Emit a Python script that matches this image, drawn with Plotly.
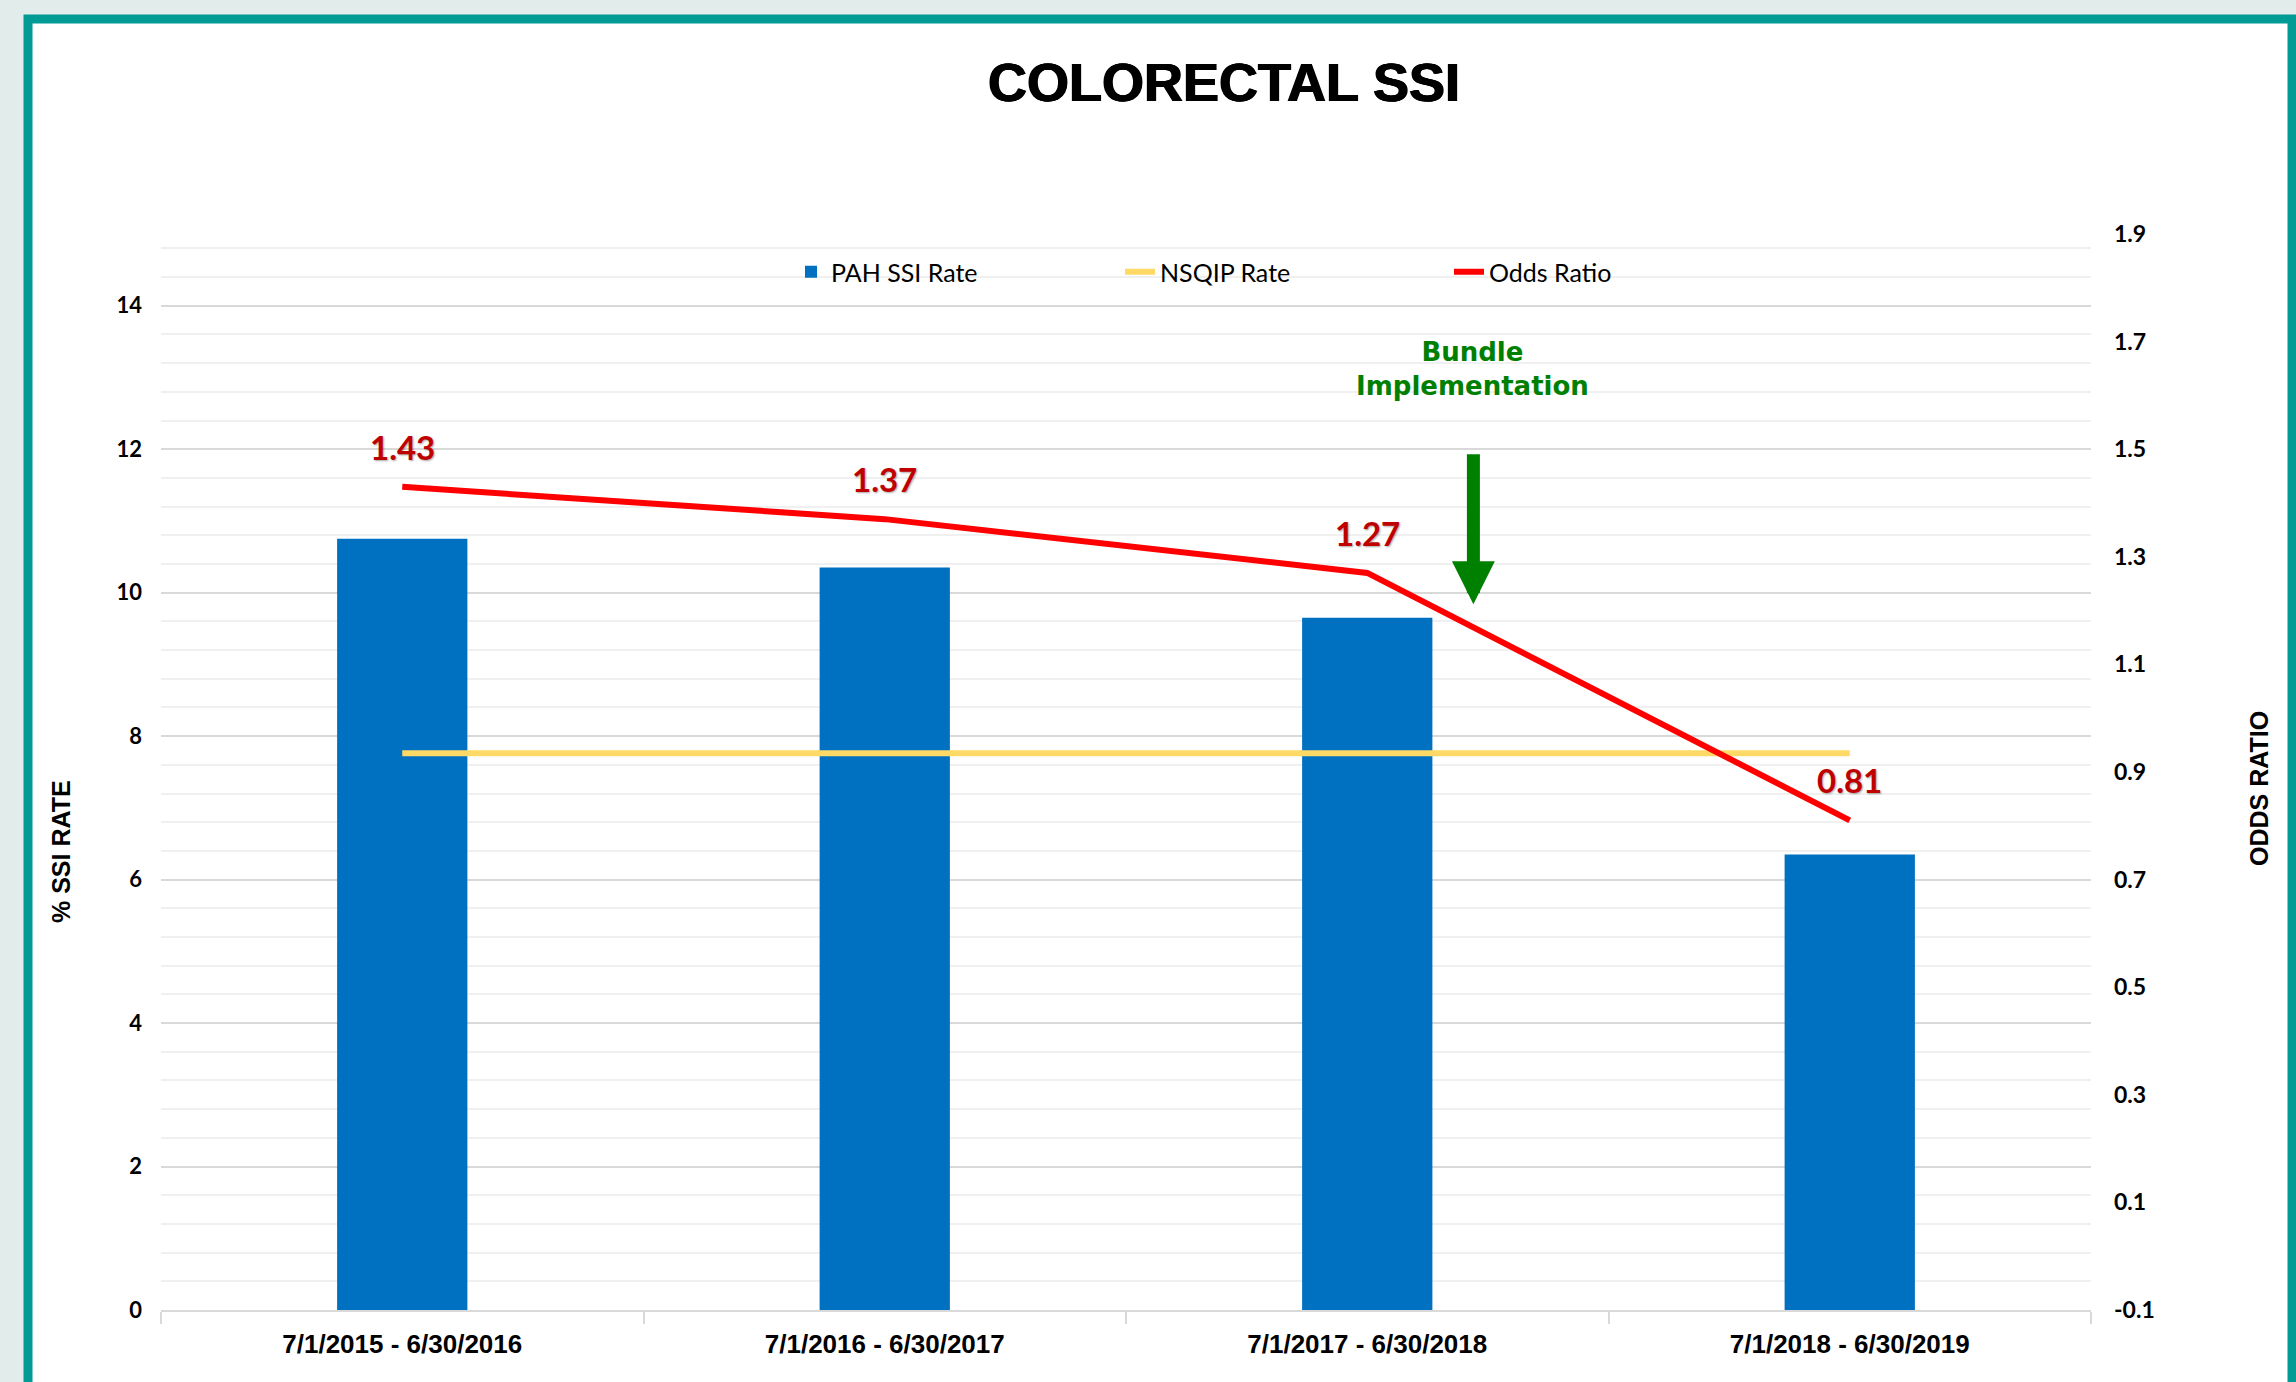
import plotly.graph_objects as go

# ---- data ----
categories = ["7/1/2015 - 6/30/2016", "7/1/2016 - 6/30/2017",
              "7/1/2017 - 6/30/2018", "7/1/2018 - 6/30/2019"]
pah_ssi_rate = [10.75, 10.35, 9.65, 6.35]
nsqip_rate = [7.76, 7.76, 7.76, 7.76]
odds_ratio = [1.43, 1.37, 1.27, 0.81]
odds_labels = ["1.43", "1.37", "1.27", "0.81"]
left_ticks = [0, 2, 4, 6, 8, 10, 12, 14]
right_ticks = [-0.1, 0.1, 0.3, 0.5, 0.7, 0.9, 1.1, 1.3, 1.5, 1.7, 1.9]
right_tick_text = ["-0.1", "0.1", "0.3", "0.5", "0.7", "0.9", "1.1", "1.3", "1.5", "1.7", "1.9"]

W, H = 2296, 1382
ML, MR, MT, MB = 161, 205, 234, 72
PW, PH = W - ML - MR, H - MT - MB

def px_x(x):
    return (x - ML) / PW

def px_y(y):
    return (H - MB - y) / PH

fig = go.Figure()
fig.add_trace(go.Bar(x=categories, y=pah_ssi_rate, name="PAH SSI Rate",
                     marker=dict(color="#0070C0", line=dict(width=0)), width=0.27))
fig.add_trace(go.Scatter(x=categories, y=nsqip_rate, name="NSQIP Rate", mode="lines",
                         line=dict(color="#FFD966", width=6)))
fig.add_trace(go.Scatter(x=categories, y=odds_ratio, name="Odds Ratio", mode="lines",
                         yaxis="y2", line=dict(color="#FF0000", width=6)))

annotations = []
for c, v, t in zip(categories, odds_ratio, odds_labels):
    annotations.append(dict(x=c, y=v, xref="x", yref="y2", text=t, showarrow=False,
                            yshift=40, xanchor="center", yanchor="middle",
                            font=dict(family="Lato", size=33, color="#C00000", weight="bold",
                                      shadow="1px 1px 2px rgba(0,0,0,0.35)")))

# axis titles
annotations.append(dict(x=px_x(61), y=px_y(852), xref="paper", yref="paper",
                        xanchor="center", yanchor="middle",
                        text="% SSI RATE", textangle=-90, showarrow=False,
                        font=dict(family="Liberation Sans", size=25, color="black", weight="bold")))
annotations.append(dict(x=px_x(2259), y=px_y(789), xref="paper", yref="paper",
                        xanchor="center", yanchor="middle",
                        text="ODDS RATIO", textangle=-90, showarrow=False,
                        font=dict(family="Liberation Sans", size=25, color="black", weight="bold")))
# bundle implementation note + arrow
annotations.append(dict(x=px_x(1472), y=px_y(369), xref="paper", yref="paper",
                        xanchor="center", yanchor="middle",
                        text="Bundle<br>Implementation", showarrow=False,
                        font=dict(family="DejaVu Sans", size=26, color="#008000", weight="bold")))
annotations.append(dict(x=2.22, y=9.84, xref="x", yref="y", ax=2.22, ay=11.95,
                        axref="x", ayref="y", text="", showarrow=True,
                        arrowhead=2, arrowsize=0.66, arrowwidth=13, arrowcolor="#008000",
                        standoff=0))

fig.update_layout(
    width=W, height=H,
    margin=dict(l=ML, r=MR, t=MT, b=MB, autoexpand=False),
    paper_bgcolor="#E1ECEB",
    plot_bgcolor="white",
    title=dict(text="COLORECTAL SSI", xref="container", yref="container",
               x=1224 / W, y=1 - 82 / H, xanchor="center", yanchor="middle",
               font=dict(family="Liberation Sans", size=54, color="black", weight="bold",
                         shadow="0.8px 0 0 black, -0.8px 0 0 black, 0 0.6px 0 black")),
    showlegend=True,
    legend=dict(orientation="h", x=px_x(791), y=px_y(272), xanchor="left", yanchor="middle",
                bgcolor="rgba(0,0,0,0)", entrywidth=284, entrywidthmode="pixels",
                font=dict(family="Lato", size=25, color="black")),
    bargap=0.73,
    xaxis=dict(type="category", showline=True, linecolor="#D9D9D9", linewidth=2,
               ticks="outside", tickson="boundaries", ticklen=12, tickwidth=2,
               tickcolor="#D9D9D9", showgrid=False, ticklabelstandoff=10,
               tickfont=dict(family="Liberation Sans", size=26, color="black", weight="bold")),
    yaxis=dict(range=[0, 15], tickmode="array", tickvals=left_ticks, showgrid=True,
               gridcolor="#D9D9D9", gridwidth=2, zeroline=False, ticks="",
               ticklabelstandoff=18,
               minor=dict(tickmode="linear", tick0=0, dtick=0.4, showgrid=True,
                          gridcolor="#F0F0F0", gridwidth=2),
               tickfont=dict(family="Lato", size=22, color="black", weight="bold")),
    yaxis2=dict(range=[-0.1, 1.9], overlaying="y", side="right", tickmode="array",
                tickvals=right_ticks, ticktext=right_tick_text, showgrid=False,
                zeroline=False, ticks="", ticklabelstandoff=22,
                tickfont=dict(family="Lato", size=23, color="black", weight="bold")),
    annotations=annotations,
    shapes=[dict(type="rect", xref="paper", yref="paper", layer="below",
                 x0=px_x(28), x1=px_x(2292), y0=px_y(1420), y1=px_y(19),
                 line=dict(color="#009B95", width=9), fillcolor="white")],
)

fig.write_html("out.html",
               config={"displayModeBar": False},
               post_script="document.body.style.margin='0';"
                           "document.body.style.overflow='hidden';"
                           "document.body.style.background='#E1ECEB';")
